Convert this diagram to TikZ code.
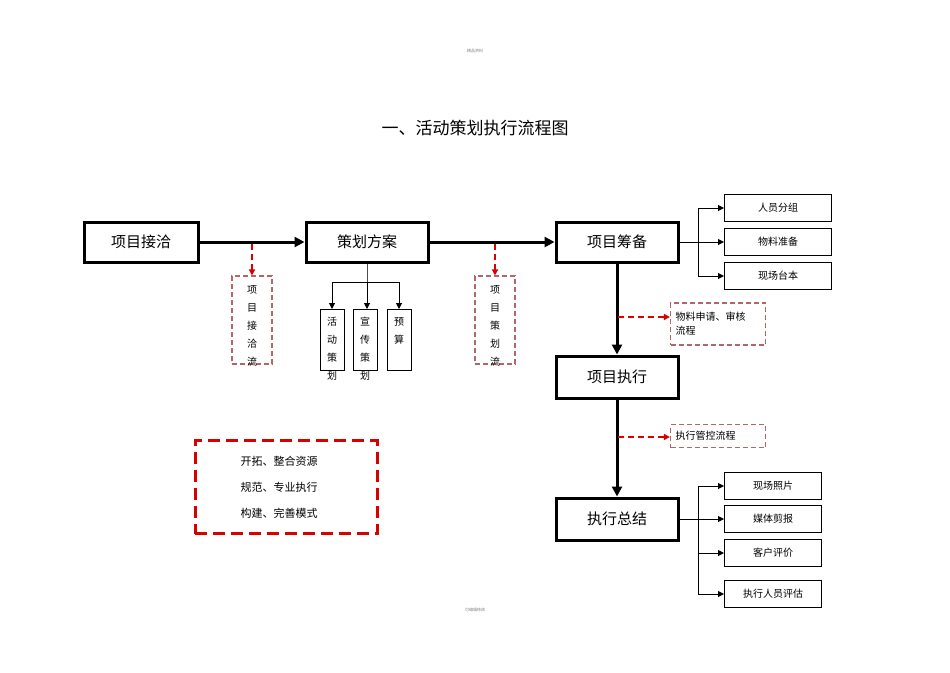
\documentclass[tikz,border=0pt]{standalone}
\usepackage{fontspec}
\newfontfamily\cjk{Noto Sans CJK SC}
\usetikzlibrary{arrows.meta}
\begin{document}
\begin{tikzpicture}[x=1pt,y=-1pt,font=\cjk,
 mainbox/.style={draw,line width=3pt,minimum width=118pt,minimum height=40pt,font=\cjk\fontsize{15}{15}\selectfont},
 thin/.style={draw,line width=1pt,font=\cjk\fontsize{10}{10}\selectfont},
 redbox/.style={draw=red!50!black!60,dash pattern=on 5pt off 3pt,line width=1.1pt,font=\cjk\fontsize{10}{10}\selectfont},
 bigarr/.style={line width=3pt,-{Triangle[length=10pt,width=10pt]}},
 smallarr/.style={line width=1pt,-{Triangle[length=6pt,width=6pt]}},
 redarr/.style={red!85!black,dash pattern=on 6pt off 4pt,line width=1.4pt,-{Triangle[length=6pt,width=6pt]}},
 vt/.style={font=\cjk\fontsize{10}{10}\selectfont}]
\useasboundingbox (0,0) rectangle (950,672);
\node[font=\cjk\fontsize{4}{4}\selectfont,text=gray] (hdr) at (475,51) {精品资料};
\node[font=\cjk\fontsize{4}{4}\selectfont,text=gray] (ftr) at (475,610) {可编辑修改};
\node[font=\cjk\fontsize{17}{17}\selectfont] (title) at (475,128) {一、活动策划执行流程图};
\node[mainbox,minimum width=114pt] (a) at (141,242) {项目接洽};
\node[mainbox,minimum width=122pt] (b) at (367,242) {策划方案};
\node[mainbox,minimum width=122pt] (c) at (617,242) {项目筹备};
\node[mainbox,minimum width=122pt,minimum height=42pt] (d) at (617,377) {项目执行};
\node[mainbox,minimum width=122pt,minimum height=42pt] (e) at (617,519) {执行总结};
\draw[bigarr] (a) -- (b);
\draw[bigarr] (b) -- (c);
\draw[bigarr] (c) -- (d);
\draw[bigarr] (d) -- (e);
\node[redbox,minimum width=40pt,minimum height=88pt] (r1) at (252,320) {};
\node[redbox,minimum width=40pt,minimum height=88pt] (r2) at (495,320) {};
\foreach \t [count=\i] in {项,目,接,洽,流}{\node[vt] (r1t\i) at (252,272+18*\i) {\t};}
\foreach \t [count=\i] in {项,目,策,划,流}{\node[vt] (r2t\i) at (495,272+18*\i) {\t};}
\coordinate (p1) at (252,244); \coordinate (p2) at (495,244);
\draw[redarr] (p1) -- (r1.north);
\draw[redarr] (p2) -- (r2.north);
\node[thin,minimum width=24pt,minimum height=61pt] (s1) at (332,340) {};
\node[thin,minimum width=24pt,minimum height=61pt] (s2) at (365,340) {};
\node[thin,minimum width=24pt,minimum height=61pt] (s3) at (399,340) {};
\foreach \t [count=\i] in {活,动,策,划}{\node[vt] (s1t\i) at (332,304+18*\i) {\t};}
\foreach \t [count=\i] in {宣,传,策,划}{\node[vt] (s2t\i) at (365,304+18*\i) {\t};}
\foreach \t [count=\i] in {预,算}{\node[vt] (s3t\i) at (399,304+18*\i) {\t};}
\coordinate (bj) at (367,282);
\draw[line width=1pt,gray!60!black] (b.south) -- (bj);
\draw[smallarr] (bj) -| (s1.north);
\draw[smallarr] (bj) -- (s2.north -| bj);
\draw[smallarr] (bj) -| (s3.north);
\node[thin,minimum width=107pt,minimum height=27pt] (t1) at (778,208) {人员分组};
\node[thin,minimum width=107pt,minimum height=27pt] (t2) at (778,242) {物料准备};
\node[thin,minimum width=107pt,minimum height=27pt] (t3) at (778,276) {现场台本};
\coordinate (cj) at (698,242);
\draw[line width=1pt] (c.east) -- (cj);
\draw[smallarr] (cj) |- (t1.west);
\draw[smallarr] (cj) -- (t2.west);
\draw[smallarr] (cj) |- (t3.west);
\node[redbox,minimum width=95pt,minimum height=42pt,align=left,text width=85pt,inner sep=4pt] (q1) at (718,324) {物料申请、审核\\[4pt]流程};
\node[redbox,minimum width=95pt,minimum height=23pt,align=left,text width=85pt,inner sep=4pt] (q2) at (718,436) {执行管控流程};
\coordinate (m1) at (618,317); \coordinate (m2) at (618,437);
\draw[redarr] (m1) -- (m1 -| q1.west);
\draw[redarr] (m2) -- (m2 -| q2.west);
\node[thin,minimum width=97pt,minimum height=27pt] (u1) at (773,486) {现场照片};
\node[thin,minimum width=97pt,minimum height=27pt] (u2) at (773,519) {媒体剪报};
\node[thin,minimum width=97pt,minimum height=27pt] (u3) at (773,553) {客户评价};
\node[thin,minimum width=97pt,minimum height=27pt] (u4) at (773,594) {执行人员评估};
\coordinate (ej) at (698,519);
\draw[line width=1pt] (e.east) -- (ej);
\draw[smallarr] (ej) |- (u1.west);
\draw[smallarr] (ej) -- (u2.west);
\draw[smallarr] (ej) |- (u3.west);
\draw[smallarr] (ej) |- (u4.west);
\node[draw=red!85!black,dash pattern=on 12pt off 6pt,line width=3pt,minimum width=182pt,minimum height=93pt] (lg) at (286,487) {};
\node[font=\cjk\fontsize{11}{11}\selectfont,anchor=west] (l1) at (237,461) {开拓、整合资源};
\node[font=\cjk\fontsize{11}{11}\selectfont,anchor=west] (l2) at (237,487) {规范、专业执行};
\node[font=\cjk\fontsize{11}{11}\selectfont,anchor=west] (l3) at (237,513) {构建、完善模式};
\end{tikzpicture}
\end{document}
